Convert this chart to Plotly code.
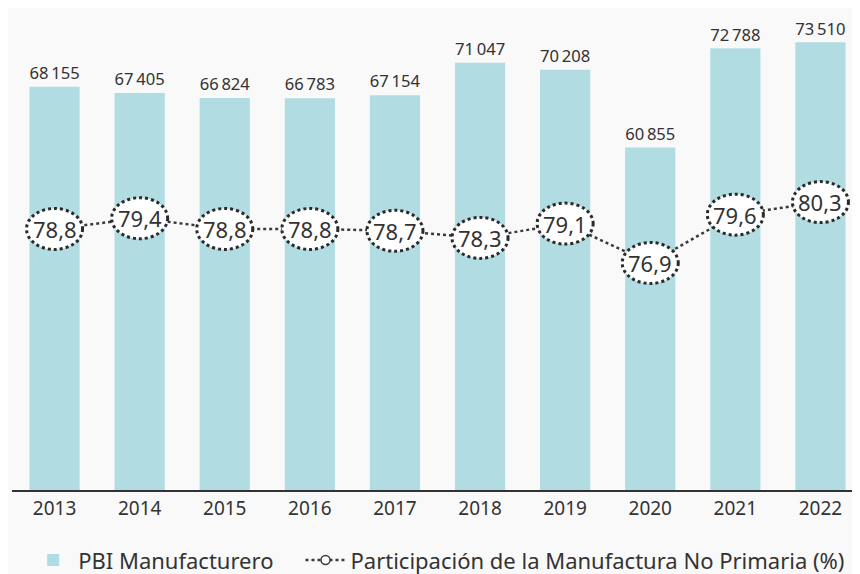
import plotly.graph_objects as go

years = ["2013", "2014", "2015", "2016", "2017", "2018", "2019", "2020", "2021", "2022"]
pbi_manufacturero = [68155, 67405, 66824, 66783, 67154, 71047, 70208, 60855, 72788, 73510]
participacion = [78.8, 79.4, 78.8, 78.8, 78.7, 78.3, 79.1, 76.9, 79.6, 80.3]

BAR_COLOR = "#b0dce2"
TEXT = "#333333"
FONT = "Noto Sans"

bar_text = [f"{v:,}".replace(",", "\u2009") for v in pbi_manufacturero]
pct_text = [f"{v:.1f}".replace(".", ",") for v in participacion]

fig = go.Figure()
fig.add_trace(go.Bar(
    x=years, y=pbi_manufacturero, name="PBI Manufacturero",
    marker=dict(color=BAR_COLOR, line=dict(width=0)),
    text=bar_text, textposition="outside", cliponaxis=False,
    textfont=dict(size=17.5, color=TEXT, family=FONT),
    legend="legend",
))
fig.add_trace(go.Scatter(
    x=years, y=participacion, yaxis="y2", mode="lines+markers",
    name="Participación de la Manufactura No Primaria (%)",
    line=dict(color="#3a3a3a", width=2.5, dash="dot"),
    marker=dict(size=9, color="white", line=dict(color="#3a3a3a", width=1.5)),
    legend="legend2",
))

shapes = []
annotations = []
for i, v in enumerate(participacion):
    shapes.append(dict(
        type="circle", layer="above",
        xref="x", xsizemode="pixel", xanchor=i, x0=-28, x1=28,
        yref="y2", ysizemode="pixel", yanchor=v, y0=-20.5, y1=20.5,
        fillcolor="white", line=dict(color="#2a2a2a", width=3, dash="dot"),
    ))
    annotations.append(dict(
        x=i, y=v, xref="x", yref="y2", text=pct_text[i], showarrow=False,
        font=dict(size=22, color=TEXT, family=FONT),
        xanchor="center", yanchor="middle",
    ))

legend_common = dict(orientation="h", xanchor="left", yref="container",
                     y=0.038, yanchor="middle",
                     font=dict(size=22, color=TEXT, family=FONT),
                     itemwidth=40, bgcolor="rgba(0,0,0,0)")

fig.update_layout(
    width=860, height=574,
    margin=dict(l=4, r=5, t=2, b=92, autoexpand=False),
    paper_bgcolor="#f9f9f9", plot_bgcolor="#f9f9f9",
    font=dict(family=FONT, color=TEXT),
    bargap=0.41,
    showlegend=True,
    legend=dict(x=0.019, **legend_common),
    legend2=dict(x=0.339, **legend_common),
    xaxis=dict(type="category", categoryorder="array", categoryarray=years,
               range=[-0.5, len(years) - 0.5],
               showgrid=False, showline=True, linecolor="#333333",
               linewidth=1.5, ticks="", tickfont=dict(size=19, color=TEXT, family=FONT)),
    yaxis=dict(range=[19640, 77400], visible=False, showgrid=False, zeroline=False),
    yaxis2=dict(range=[64.22, 91.03], overlaying="y", visible=False,
                showgrid=False, zeroline=False),
    shapes=shapes, annotations=annotations,
)

fig.write_html("out.html")
